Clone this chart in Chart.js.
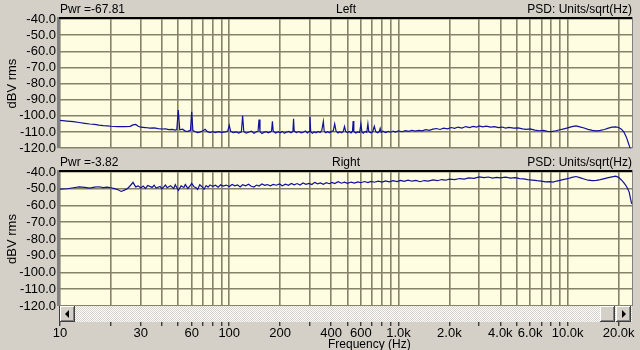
<!DOCTYPE html>
<html>
<head>
<meta charset="utf-8">
<title>PSD Left / Right</title>
<script src="https://cdn.jsdelivr.net/npm/chart.js@4.4.0/dist/chart.umd.min.js"></script>
<style>
  html, body { margin: 0; padding: 0; background: #d4d0c8; }
  #wrap { position: relative; width: 640px; height: 350px; overflow: hidden;
          font-family: "Liberation Sans", Arial, sans-serif; font-size: 12px; color: #000; }
  canvas { position: absolute; left: 0; }
  .lbl { position: absolute; white-space: nowrap; line-height: 14px; }
  .mid { left: 60px; width: 572px; text-align: center; }
  .rgt { right: 8px; }
  #scroll { position: absolute; left: 60px; top: 306px; width: 572px; height: 16px;
            background: repeating-conic-gradient(#ffffff 0 25%, #d4d0c8 0 50%) 0 0 / 2px 2px; }
  .btn { position: absolute; top: 306px; width: 15px; height: 16px; background: #d4d0c8;
         box-shadow: inset -1px -1px #404040, inset 1px 1px #ffffff, inset -2px -2px #808080; }
  .arr { position: absolute; top: 4px; width: 0; height: 0;
         border-top: 4px solid transparent; border-bottom: 4px solid transparent; }
</style>
</head>
<body>
<div id="wrap">
  <canvas id="leftChart" width="640" height="160" style="top:0"></canvas>
  <canvas id="rightChart" width="640" height="190" style="top:160px"></canvas>

  <div class="lbl" style="left:60px;top:2px">Pwr =-67.81</div>
  <div class="lbl mid" style="top:2px">Left</div>
  <div class="lbl rgt" style="top:2px">PSD: Units/sqrt(Hz)</div>

  <div class="lbl" style="left:60px;top:155px">Pwr =-3.82</div>
  <div class="lbl mid" style="top:155px">Right</div>
  <div class="lbl rgt" style="top:155px">PSD: Units/sqrt(Hz)</div>

  <div id="scroll"></div>
  <div class="btn" style="left:60px"><div class="arr" style="left:5px;border-right:4px solid #000"></div></div>
  <div class="btn" style="left:600px"></div>
  <div class="btn" style="left:616px"><div class="arr" style="left:6px;border-left:4px solid #000"></div></div>

  <div class="lbl" style="left:328px;top:337px">Frequency (Hz)</div>
</div>

<script>
/* ── axis ticks ─────────────────────────────────────────────── */
const gridFreqs = [10, 20, 30, 40, 50, 60, 70, 80, 90,
    100, 200, 300, 400, 500, 600, 700, 800, 900,
    1000, 2000, 3000, 4000, 5000, 6000, 7000, 8000, 9000,
    10000, 20000];
const labelFreqs = [10, 30, 60, 100, 200, 400, 600, 1000, 2000, 4000, 6000, 10000, 20000];
const dbTicks = [-40, -50, -60, -70, -80, -90, -100, -110, -120];

/* ── Left channel ───────────────────────────────────────────── */
const leftFreq = [10, 11, 12, 13, 14, 15, 16, 17, 18, 19, 20, 22, 24, 26, 27, 28, 29, 30, 32, 34,
    36, 38, 40, 42, 44, 46, 48, 49, 50, 51, 53, 55, 57, 59, 60, 61, 63, 65, 67, 70,
    72, 74, 77, 80, 83, 86, 90, 95, 98, 100, 102, 106, 110, 114, 118, 120, 122, 126, 130, 135,
    140, 145, 148, 150, 152, 156, 160, 165, 170, 175, 178, 180, 182, 188, 195, 200, 206, 212, 218, 225,
    232, 238, 240, 242, 250, 258, 266, 274, 282, 290, 297, 300, 303, 310, 318, 326, 335, 344, 352, 360,
    364, 372, 382, 392, 402, 412, 420, 428, 440, 450, 462, 472, 480, 488, 500, 512, 525, 535, 540, 545,
    560, 575, 590, 600, 608, 620, 635, 650, 660, 668, 685, 705, 720, 735, 755, 770, 780, 790, 810, 840,
    870, 900, 930, 960, 1000, 1050, 1100, 1150, 1200, 1260, 1320, 1380, 1450, 1520, 1600, 1680, 1760, 1850, 1950, 2050,
    2150, 2250, 2370, 2500, 2630, 2760, 2900, 3000, 3150, 3300, 3500, 3700, 3900, 4100, 4300, 4500, 4800, 5100, 5400, 5700,
    6000, 6400, 6800, 7200, 7600, 8000, 8500, 9000, 9500, 10000, 10600, 11200, 11800, 12500, 13200, 14000, 14800, 15600, 16500, 17400,
    18300, 19200, 20000, 20800, 21500, 22200, 22800, 23300, 23700];
const leftDb = [-102.8, -103.2, -103.6, -104.1, -104.6, -105.0, -105.3, -105.7, -106.0, -106.2, -106.4, -106.6, -106.7, -106.5, -105.6, -105.3, -106.4, -107.0, -107.2, -107.6,
    -107.4, -107.9, -108.1, -108.0, -108.5, -108.4, -108.8, -108.5, -96.4, -108.6, -108.2, -109.4, -109.6, -108.9, -97.5, -109.1, -109.8, -110.3, -110.0, -109.2,
    -108.3, -109.6, -110.4, -109.7, -110.3, -109.8, -110.2, -109.9, -109.4, -105.8, -109.6, -110.3, -109.9, -110.6, -109.9, -99.9, -109.8, -110.6, -110.1, -109.4,
    -110.7, -109.8, -109.5, -102.2, -109.7, -110.9, -110.2, -109.7, -110.5, -109.9, -109.3, -103.4, -109.5, -110.6, -109.8, -110.4, -109.6, -110.8, -110.0, -109.6,
    -110.5, -109.5, -101.8, -109.4, -110.3, -109.7, -110.5, -110.1, -109.4, -110.6, -109.6, -100.6, -109.8, -110.7, -109.9, -110.4, -109.6, -110.3, -109.2, -103.4,
    -109.4, -110.5, -109.8, -110.4, -109.6, -109.3, -105.0, -109.5, -110.6, -109.8, -110.4, -109.6, -106.6, -109.7, -110.3, -109.6, -110.5, -109.5, -103.2, -109.8,
    -110.6, -109.9, -110.3, -105.0, -109.9, -110.7, -109.6, -110.2, -104.8, -109.7, -110.5, -109.8, -106.4, -109.9, -110.4, -109.7, -107.7, -110.2, -109.5, -110.3,
    -109.6, -110.1, -109.4, -110.0, -109.3, -109.8, -109.1, -109.6, -108.9, -109.4, -109.0, -109.3, -108.5, -108.9, -108.2, -107.8, -108.4, -107.6, -108.0, -107.2,
    -107.7, -106.9, -107.5, -106.6, -107.2, -106.5, -107.0, -106.2, -106.8, -106.4, -107.0, -106.6, -107.2, -106.9, -107.5, -107.1, -107.6, -107.4, -108.0, -108.4,
    -108.1, -108.8, -109.2, -109.0, -109.6, -109.7, -109.2, -108.6, -108.0, -107.4, -106.6, -106.2, -106.8, -107.5, -108.3, -109.0, -109.3, -109.0, -108.4, -107.6,
    -107.0, -106.8, -107.2, -108.2, -110.0, -113.0, -116.5, -119.5, -121.5];

/* ── Right channel ──────────────────────────────────────────── */
const rightFreq = [10, 11, 12, 13, 14, 15, 16, 17, 18, 19, 20, 21, 22, 23, 24, 25, 26, 27, 28, 29,
    30, 31, 32, 33, 35, 36, 37, 39, 40, 42, 43, 45, 47, 48, 50, 52, 54, 55, 57, 59,
    60, 62, 64, 65, 67, 69, 71, 73, 75, 77, 80, 83, 86, 89, 92, 96, 100, 104, 108, 112,
    116, 120, 125, 130, 135, 140, 145, 150, 156, 162, 168, 175, 182, 190, 198, 206, 215, 224, 233, 242,
    252, 262, 273, 284, 296, 308, 320, 333, 346, 360, 375, 390, 405, 420, 440, 460, 480, 500, 525, 550,
    575, 600, 630, 660, 690, 720, 760, 800, 840, 880, 930, 980, 1030, 1080, 1140, 1200, 1270, 1340, 1420, 1500,
    1600, 1700, 1800, 1900, 2000, 2150, 2300, 2450, 2600, 2800, 3000, 3200, 3400, 3600, 3800, 4000, 4300, 4600, 4900, 5200,
    5500, 5800, 6200, 6600, 7000, 7400, 7800, 8200, 8600, 9000, 9500, 10000, 10600, 11200, 11800, 12500, 13200, 14000, 14800, 15600,
    16500, 17400, 18300, 19200, 20000, 20700, 21400, 22000, 22600, 23100, 23500, 23900];
const rightDb = [-50.2, -50.0, -49.4, -48.9, -49.2, -49.6, -49.0, -48.8, -49.3, -49.0, -49.4, -49.9, -50.6, -51.6, -50.8, -50.0, -48.2, -46.2, -48.9, -48.3,
    -49.5, -48.4, -49.8, -48.1, -49.2, -47.9, -49.6, -48.6, -50.1, -47.8, -49.4, -48.2, -49.9, -47.6, -51.0, -48.3, -49.2, -47.5, -49.8, -48.0,
    -46.8, -48.9, -49.6, -50.4, -47.6, -48.8, -50.3, -48.1, -49.0, -47.7, -48.6, -47.9, -49.1, -47.6, -48.4, -47.8, -48.7, -47.5, -48.3, -47.7,
    -48.9, -47.6, -48.2, -47.3, -48.5, -49.0, -47.8, -48.4, -47.2, -48.0, -47.5, -48.3, -47.4, -47.9, -47.1, -48.2, -47.3, -47.9, -46.8, -47.6,
    -46.9, -47.8, -46.6, -47.4, -46.8, -47.5, -46.2, -47.1, -46.5, -47.3, -46.4, -47.0, -46.2, -46.9, -45.8, -46.7, -46.1, -46.8, -46.0, -46.6,
    -45.9, -46.4, -45.7, -46.3, -45.6, -46.1, -45.5, -46.0, -45.3, -45.9, -45.2, -45.7, -45.0, -45.6, -44.9, -45.5, -45.0, -45.8, -45.1, -45.4,
    -44.7, -45.2, -44.5, -44.9, -44.3, -44.6, -43.9, -44.2, -43.5, -43.8, -42.9, -43.4, -43.0, -43.6, -43.2, -43.5, -43.1, -43.7, -43.4, -43.9,
    -44.1, -44.5, -44.8, -45.2, -45.5, -45.9, -45.7, -46.0, -45.4, -45.0, -44.4, -44.0, -43.2, -42.7, -43.4, -44.2, -44.9, -45.2, -45.0, -44.6,
    -44.0, -43.4, -42.9, -42.5, -43.2, -44.6, -46.2, -47.8, -49.8, -52.0, -55.8, -59.0];

/* ── helpers ────────────────────────────────────────────────── */
function fmtFreq(v) {
    return v >= 1000 ? (v / 1000).toFixed(1) + "k" : String(v);
}

// pale yellow plot area with the sunken frame on top/left
const framePlugin = {
    id: "frame",
    beforeDraw(chart) {
        const { ctx, chartArea: a } = chart;
        ctx.save();
        ctx.fillStyle = "#fffde1";
        ctx.fillRect(a.left, a.top, a.right - a.left, a.bottom - a.top);
        ctx.restore();
    },
    afterDraw(chart) {
        const { ctx, chartArea: a } = chart;
        ctx.save();
        ctx.fillStyle = "#808080";
        ctx.fillRect(a.left - 3, a.top - 2, 3, a.bottom - a.top + 2);
        ctx.fillStyle = "#000";
        ctx.fillRect(a.left - 1, a.top - 2, a.right - a.left + 1, 2);
        ctx.fillStyle = "#808080";
        ctx.fillRect(a.right, a.top - 2, 1, a.bottom - a.top + 2);
        ctx.restore();
    }
};

function makePanel(id, freq, db, showX) {
    const pts = freq.map((f, i) => ({ x: f, y: db[i] }));
    const canvas = document.getElementById(id);
    const font = { family: "'Liberation Sans', Arial, sans-serif", size: 13 };

    return new Chart(canvas, {
        type: "scatter",
        data: {
            datasets: [{
                data: pts,
                showLine: true,
                borderColor: "#10109a",
                borderWidth: 1.2,
                pointRadius: 0,
                tension: 0
            }]
        },
        options: {
            responsive: false,
            animation: false,
            events: [],
            layout: { padding: showX ? { top: 12, bottom: 4, left: 0, right: 8 } : { top: 19, bottom: 6, left: 0, right: 8 } },
            plugins: { legend: { display: false }, tooltip: { enabled: false } },
            scales: {
                x: {
                    type: "logarithmic",
                    min: 10, max: 24000,
                    afterBuildTicks: s => { s.ticks = gridFreqs.map(v => ({ value: v })); },
                    afterFit: s => { s.height = showX ? 40 : 0; },
                    grid: {
                        color: "#858269",
                        lineWidth: 1.6,
                        drawTicks: showX,
                        tickLength: 20,
                        tickColor: "#000",
                        tickWidth: 1
                    },
                    border: { display: false },
                    ticks: {
                        display: showX,
                        autoSkip: false,
                        maxRotation: 0, minRotation: 0,
                        padding: 0,
                        color: "#000",
                        font: font,
                        callback: v => labelFreqs.includes(v) ? fmtFreq(v) : ""
                    }
                },
                y: {
                    min: -120, max: -40,
                    afterBuildTicks: s => { s.ticks = dbTicks.map(v => ({ value: v })); },
                    afterFit: s => { s.width = 60; },
                    grid: { color: "#858269", lineWidth: 1.6, drawTicks: false },
                    border: { display: false },
                    ticks: {
                        autoSkip: false,
                        padding: 4,
                        color: "#000",
                        font: font,
                        callback: v => v.toFixed(1)
                    },
                    title: {
                        display: true,
                        text: "dBV rms",
                        color: "#000",
                        font: font,
                        padding: { top: 5, bottom: 0 }
                    }
                }
            }
        },
        plugins: [framePlugin]
    });
}

makePanel("leftChart", leftFreq, leftDb, false);
makePanel("rightChart", rightFreq, rightDb, true);
</script>
</body>
</html>
